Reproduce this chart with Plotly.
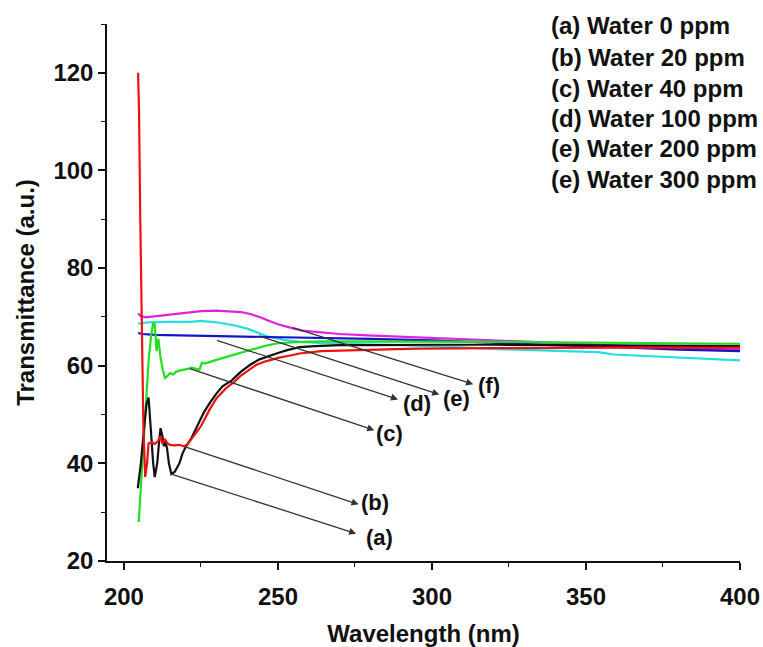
import plotly.graph_objects as go

# ---- data ----
wl_a = [204.5, 205.5, 206.5, 207.3, 208.0, 208.8, 209.5, 210.0, 210.8, 211.5, 211.9, 212.5, 213.0, 213.5,
        214.0, 214.6, 215.4, 216.5, 218, 219, 220, 222, 224, 226, 228, 230, 232, 235, 238, 241, 244, 247,
        250, 253, 257, 262, 270, 280, 290, 300, 320, 340, 360, 380, 400]
t_a = [34.9, 40, 47, 52, 53.5, 46, 40, 37.2, 40, 45, 47.2, 45.5, 43.5, 44.5,
       43, 40, 37.8, 38.3, 40, 42, 43.3, 45.3, 48.0, 50.5, 52.5, 54.3, 55.8, 57.0, 58.8, 60.2, 61.3, 62.0,
       62.6, 63.2, 63.8, 64.0, 64.2, 64.2, 64.3, 64.3, 64.3, 64.2, 64.2, 64.1, 64.0]

wl_b = [204.6, 204.9, 205.3, 205.8, 206.3, 206.9, 207.5, 208.0, 209, 210, 211, 211.8, 212.5, 213.3, 214,
        215, 216.5, 218, 219.5, 220.5, 221.5, 223, 225, 227.8, 230, 233, 236, 238, 241, 243, 246, 250,
        254, 257, 264, 279, 295, 320, 340, 360, 380, 400]
t_b = [120, 112, 90, 65, 48, 37.2, 40, 44.1, 44.3, 44.0, 44.5, 45.5, 44.0, 45.0, 44.2,
       43.8, 43.7, 43.8, 43.5, 43.8, 44.6, 45.8, 47.6, 51.0, 53.3, 55.3, 56.8, 58.0, 59.4, 60.2, 60.9, 61.6,
       62.1, 62.5, 63.0, 63.2, 63.5, 63.6, 63.7, 63.7, 63.7, 63.7]

wl_c = [204.8, 205.5, 206.3, 207.2, 208.0, 208.8, 209.5, 210.0, 210.6, 211.2, 211.8, 212.5, 213.3, 214.0,
        215, 216, 217, 218, 219, 220, 221, 222, 223, 224.5, 225.3, 226.5, 230, 235, 240, 246, 250, 257,
        264, 275, 300, 320, 340, 360, 380, 400]
t_c = [28.0, 35, 44, 53, 61, 66, 68.8, 68.5, 63, 65.5, 62, 59.5, 57.5, 57.8,
       58.5, 58.2, 58.8, 59.0, 59.1, 59.3, 59.4, 59.6, 59.5, 59.2, 60.6, 60.5, 61.2, 62.1, 63.0, 64.1, 64.6, 64.9,
       65.0, 65.0, 65.0, 64.9, 64.8, 64.7, 64.6, 64.5]

wl_d = [204.6, 206, 210, 220, 230, 250, 280, 300, 322, 340, 360, 380, 400]
t_d = [66.7, 66.5, 66.3, 66.2, 66.1, 65.9, 65.5, 65.2, 64.6, 64.2, 63.8, 63.3, 63.0]

wl_e = [204.6, 208, 215, 221.5, 225, 230, 235.6, 240, 246.6, 252, 257, 265, 279, 300, 322, 340, 354, 359,
        380, 400]
t_e = [68.6, 68.9, 69.0, 69.0, 69.2, 68.9, 68.3, 67.6, 66.0, 65.3, 64.9, 64.6, 64.4, 64.0, 63.4, 63.0, 62.8,
       62.3, 61.7, 61.1]

wl_f = [204.6, 205.5, 207, 210, 215, 220, 225, 230, 235, 238, 241, 244, 247, 250, 254, 258, 263, 270, 279,
        301, 323, 340, 360, 380, 400]
t_f = [70.7, 70.2, 69.9, 70.1, 70.5, 70.9, 71.2, 71.3, 71.2, 71.0, 70.6, 70.0, 69.2, 68.5, 67.8, 67.2, 66.9,
       66.5, 66.2, 65.7, 65.2, 64.7, 64.1, 63.6, 63.3]

series_names = ["(a) Water 0 ppm", "(b) Water 20 ppm", "(c) Water 40 ppm",
                "(d) Water 100 ppm", "(e) Water 200 ppm", "(e) Water 300 ppm"]
series_colors = ["#111111", "#ee1111", "#22dd22", "#1414cc", "#22e0e0", "#e020e0"]

# arrow labels: tail on curve -> head near label
arrow_labels = ["(a)", "(b)", "(c)", "(d)", "(e)", "(f)"]
arrow_tail_wl = [215.4, 219.9, 220.9, 229.7, 243.3, 254.2]
arrow_tail_t = [37.8, 43.4, 59.5, 65.3, 66.2, 67.9]
arrow_head_wl = [275.4, 276.2, 281.3, 289.0, 302.4, 313.4]
arrow_head_t = [25.6, 31.6, 46.8, 53.1, 54.1, 56.2]
label_wl = [282.9, 281.4, 286.3, 295.3, 308.0, 318.6]
label_t = [24.9, 32.0, 46.2, 52.3, 53.3, 56.0]

legend_wl = 338.0
legend_t = [129.7, 123.1, 116.8, 110.6, 104.5, 98.2]

x_ticks = [200, 250, 300, 350, 400]
y_ticks = [20, 40, 60, 80, 100, 120]

FONT = "Arial, Liberation Sans, sans-serif"

fig = go.Figure()
all_wl = [wl_a, wl_b, wl_c, wl_d, wl_e, wl_f]
all_t = [t_a, t_b, t_c, t_d, t_e, t_f]
order = [5, 4, 3, 2, 0, 1]
for i in order:
    fig.add_trace(go.Scatter(x=all_wl[i], y=all_t[i], mode="lines", name=series_names[i],
                             line=dict(color=series_colors[i], width=2.2), showlegend=False))

annotations = []
for k in range(len(arrow_labels)):
    annotations.append(dict(x=arrow_head_wl[k], y=arrow_head_t[k], ax=arrow_tail_wl[k], ay=arrow_tail_t[k],
                            xref="x", yref="y", axref="x", ayref="y", text="", showarrow=True,
                            arrowhead=2, arrowsize=1.1, arrowwidth=1.3, arrowcolor="#333333"))
    annotations.append(dict(x=label_wl[k], y=label_t[k], xref="x", yref="y", text=arrow_labels[k],
                            showarrow=False, font=dict(family=FONT, size=22, color="#111111", weight="bold")))
for k, name in enumerate(series_names):
    annotations.append(dict(x=legend_wl, y=legend_t[k], xref="x", yref="y", text=name, showarrow=False,
                            xanchor="left", yanchor="middle",
                            font=dict(family=FONT, size=24, color="#111111", weight="bold")))

fig.update_layout(
    width=763, height=647,
    margin=dict(l=107, r=23, t=24, b=86, autoexpand=False),
    paper_bgcolor="white", plot_bgcolor="white",
    annotations=annotations,
    xaxis=dict(range=[194.5, 400], tickvals=x_ticks, ticks="outside", ticklen=7, tickwidth=1.5,
               tickcolor="#111111", showline=True, linecolor="#111111", linewidth=1.5,
               showgrid=False, zeroline=False, ticklabelstandoff=6,
               tickfont=dict(family=FONT, size=24, color="#111111", weight="bold"),
               minor=dict(dtick=25, tick0=200, ticks="outside", ticklen=4, tickcolor="#111111", tickwidth=1.2),
               title=dict(text="Wavelength (nm)", standoff=22,
                          font=dict(family=FONT, size=24, color="#111111", weight="bold"))),
    yaxis=dict(range=[20, 130], tickvals=y_ticks, ticks="outside", ticklen=7, tickwidth=1.5,
               tickcolor="#111111", showline=True, linecolor="#111111", linewidth=1.5,
               showgrid=False, zeroline=False,
               tickfont=dict(family=FONT, size=24, color="#111111", weight="bold"),
               minor=dict(dtick=10, tick0=20, ticks="outside", ticklen=4, tickcolor="#111111", tickwidth=1.2),
               title=dict(text="Transmittance (a.u.)", standoff=12,
                          font=dict(family=FONT, size=24, color="#111111", weight="bold"))),
)

fig.write_html("out.html")
